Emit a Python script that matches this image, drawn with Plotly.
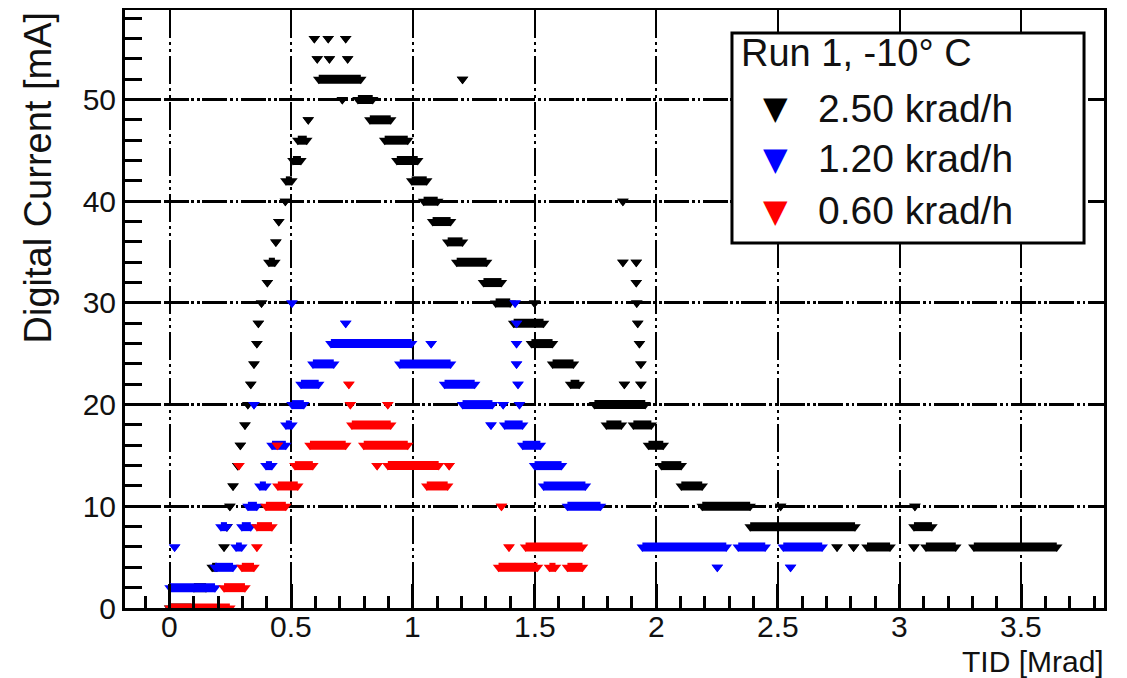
import plotly.graph_objects as go

# ---------------- data (runs of equal-valued points: start TID, end TID, current) ----------------
# 2.50 krad/h (black)
black_y  = [0, 2, 4, 6, 8, 10, 12, 14, 16, 18, 20, 22, 24, 26, 28, 30, 32, 34, 36, 38, 40, 42, 44, 46, 48,
            52, 54, 54, 54, 56, 56, 56, 50, 50, 48, 46, 44, 42, 40, 38, 36, 52, 34, 32, 30, 28, 30, 26, 24, 22,
            20, 18, 22, 40, 34, 34, 32, 30, 28, 26, 24, 22, 18, 16, 14, 12, 10, 8, 10, 6, 6, 6, 8, 6, 10, 6, 6]
black_x0 = [0.000, 0.100, 0.175, 0.224, 0.236, 0.248, 0.261, 0.280, 0.291, 0.310, 0.322, 0.334, 0.347, 0.359,
            0.365, 0.378, 0.402, 0.408, 0.437, 0.449, 0.476, 0.478, 0.507, 0.527, 0.570,
            0.613, 0.607, 0.657, 0.732, 0.595, 0.652, 0.724, 0.710, 0.774, 0.823, 0.884, 0.934, 0.995, 1.044,
            1.081, 1.143, 1.204, 1.180, 1.290, 1.340, 1.414, 1.500, 1.487, 1.574, 1.648,
            1.746, 1.795, 1.869, 1.863, 1.863, 1.918, 1.918, 1.920, 1.924, 1.931, 1.937, 1.937, 1.906, 1.968,
            2.021, 2.103, 2.189, 2.386, 2.511, 2.743, 2.811, 2.866, 3.059, 3.059, 3.063, 3.108, 3.305]
black_x1 = [0.090, 0.150, 0.195, 0.224, 0.236, 0.248, 0.261, 0.280, 0.291, 0.310, 0.322, 0.334, 0.347, 0.359,
            0.365, 0.378, 0.402, 0.433, 0.437, 0.449, 0.476, 0.503, 0.540, 0.564, 0.570,
            0.786, 0.607, 0.657, 0.732, 0.595, 0.652, 0.724, 0.710, 0.835, 0.909, 0.979, 1.020, 1.057, 1.102,
            1.155, 1.204, 1.204, 1.303, 1.364, 1.400, 1.537, 1.500, 1.574, 1.660, 1.684,
            1.955, 1.857, 1.869, 1.863, 1.863, 1.918, 1.918, 1.920, 1.924, 1.931, 1.937, 1.937, 1.980, 2.029,
            2.103, 2.189, 2.386, 2.817, 2.511, 2.743, 2.811, 2.961, 3.133, 3.059, 3.063, 3.231, 3.646]

# 1.20 krad/h (blue)
blue_y  = [2, 4, 6, 6, 8, 8, 10, 12, 14, 16, 18, 20, 20, 30, 22, 24, 26, 28, 26, 24, 22, 20, 18, 20, 18,
           30, 28, 26, 24, 22, 20, 16, 14, 12, 10, 6, 4, 6, 6, 4]
blue_x0 = [0.002, 0.187, 0.021, 0.273, 0.211, 0.297, 0.322, 0.371, 0.396, 0.421, 0.478, 0.347, 0.503, 0.503,
           0.540, 0.589, 0.663, 0.724, 1.075, 0.946, 1.130, 1.204, 1.321, 1.371, 1.377,
           1.420, 1.426, 1.426, 1.426, 1.432, 1.438, 1.451, 1.500, 1.537, 1.635, 1.943, 2.251, 2.337, 2.522, 2.552]
blue_x1 = [0.187, 0.261, 0.021, 0.297, 0.236, 0.334, 0.359, 0.396, 0.421, 0.478, 0.503, 0.347, 0.552, 0.503,
           0.613, 0.675, 0.995, 0.724, 1.075, 1.155, 1.254, 1.327, 1.321, 1.371, 1.451,
           1.420, 1.426, 1.426, 1.426, 1.432, 1.438, 1.524, 1.611, 1.709, 1.771, 2.288, 2.251, 2.448, 2.682, 2.552]

# 0.60 krad/h (red)
red_y  = [0, 2, 4, 6, 8, 10, 12, 14, 16, 14, 16, 22, 20, 18, 16, 20, 14, 14, 14, 12, 10, 4, 6, 6, 4, 4]
red_x0 = [0.002, 0.224, 0.297, 0.359, 0.359, 0.396, 0.445, 0.285, 0.443, 0.515, 0.577, 0.737, 0.743, 0.749,
          0.798, 0.897, 0.853, 0.897, 1.149, 1.057, 1.364, 1.352, 1.395, 1.463, 1.561, 1.635]
red_x1 = [0.248, 0.310, 0.347, 0.359, 0.421, 0.478, 0.527, 0.285, 0.443, 0.589, 0.724, 0.737, 0.743, 0.909,
          0.979, 0.897, 0.853, 1.106, 1.149, 1.143, 1.364, 1.512, 1.395, 1.697, 1.586, 1.697]

series_names  = ["2.50 krad/h", "1.20 krad/h", "0.60 krad/h"]
series_colors = ["#000000", "#0000ff", "#ff0000"]

x_tick_vals = [0, 0.5, 1, 1.5, 2, 2.5, 3, 3.5]
x_tick_text = ["0", "0.5", "1", "1.5", "2", "2.5", "3", "3.5"]
y_tick_vals = [0, 10, 20, 30, 40, 50]
y_tick_text = ["0", "10", "20", "30", "40", "50"]

legend_title = "Run 1, -10\u00b0 C"
x_title = "TID [Mrad]"
y_title = "Digital Current [mA]"

# ---------------- figure ----------------
FONT = "Liberation Sans, Arial, Helvetica, sans-serif"
TXT = "#111111"


def runs_to_xy(x0s, x1s, ys):
    xs, yy = [], []
    for a, b, v in zip(x0s, x1s, ys):
        xs += [a, b, None]
        yy += [v, v, None]
    return xs, yy


fig = go.Figure()
for (x0s, x1s, ys), name, col in zip(
        [(black_x0, black_x1, black_y), (blue_x0, blue_x1, blue_y), (red_x0, red_x1, red_y)],
        series_names, series_colors):
    xs, yy = runs_to_xy(x0s, x1s, ys)
    fig.add_trace(go.Scatter(
        x=xs, y=yy, mode="lines+markers", name=name, showlegend=False,
        line=dict(color=col, width=9),
        marker=dict(symbol="triangle-down", size=10, color=col, line=dict(width=0)),
        hoverinfo="skip"))

# the page places the figure 8px from the window's top-left corner
fig.update_layout(
    width=1119, height=670,
    margin=dict(l=117, r=23, t=2, b=70),
    paper_bgcolor="white", plot_bgcolor="white",
    font=dict(family=FONT, color=TXT),
    showlegend=False,
)

fig.update_xaxes(
    range=[-0.183, 3.84], tickmode="array", tickvals=x_tick_vals, ticktext=x_tick_text,
    showticklabels=False,
    ticks="inside", ticklen=24, tickwidth=2.5, tickcolor="black",
    minor=dict(dtick=0.1, tick0=0, ticks="inside", ticklen=12, tickwidth=2.5, tickcolor="black", showgrid=False),
    showline=True, linewidth=3, linecolor="black", mirror=True,
    showgrid=True, gridcolor="black", gridwidth=2.4, griddash="28px,4px,3px,4px,3px,4px",
    zeroline=False, automargin=False,
)
fig.update_yaxes(
    range=[0, 58.8], tickmode="array", tickvals=y_tick_vals, ticktext=y_tick_text,
    ticks="inside", ticklen=34, tickwidth=2.5, tickcolor="black",
    tickfont=dict(size=30, family=FONT, color=TXT),
    minor=dict(dtick=2, tick0=0, ticks="inside", ticklen=17, tickwidth=2.5, tickcolor="black", showgrid=False),
    showline=True, linewidth=3, linecolor="black", mirror=True,
    showgrid=True, gridcolor="black", gridwidth=3, griddash="25px,2.5px,3px,3px,2.5px,2.5px",
    zeroline=False, automargin=False,
)

# x tick labels placed just under the axis, at the tick values
for v, t in zip(x_tick_vals, x_tick_text):
    fig.add_annotation(text=t, xref="x", yref="paper", x=v, y=-0.031,
                       xanchor="center", yanchor="middle", showarrow=False,
                       font=dict(size=30, family=FONT, color=TXT))

# axis titles (ROOT style: at the ends of the axes)
fig.add_annotation(text=x_title, xref="paper", yref="paper", x=1.002, y=-0.090,
                   xanchor="right", yanchor="middle", showarrow=False,
                   font=dict(size=30, family=FONT, color=TXT))
fig.add_annotation(text=y_title, xref="paper", yref="paper", x=-0.0884, y=0.7207,
                   xanchor="center", yanchor="middle", textangle=-90, showarrow=False,
                   font=dict(size=38, family=FONT, color=TXT))

# legend box
fig.add_shape(type="rect", xref="paper", yref="paper", x0=0.620, x1=0.9796, y0=0.6104, y1=0.9615,
              line=dict(color="black", width=3), fillcolor="white", layer="above")
fig.add_annotation(text=legend_title, xref="paper", yref="paper", x=0.627, y=0.928,
                   xanchor="left", yanchor="middle", showarrow=False,
                   font=dict(size=38, family=FONT, color=TXT))
leg_y = [0.836, 0.751, 0.664]
for name, col, yy in zip(series_names, series_colors, leg_y):
    fig.add_annotation(text="\u25bc", xref="paper", yref="paper", x=0.664, y=yy,
                       xanchor="center", yanchor="middle", showarrow=False,
                       font=dict(size=32, family="DejaVu Sans", color=col))
    fig.add_annotation(text=name, xref="paper", yref="paper", x=0.706, y=yy,
                       xanchor="left", yanchor="middle", showarrow=False,
                       font=dict(size=39, family=FONT, color=TXT))

fig.write_html("out.html")
